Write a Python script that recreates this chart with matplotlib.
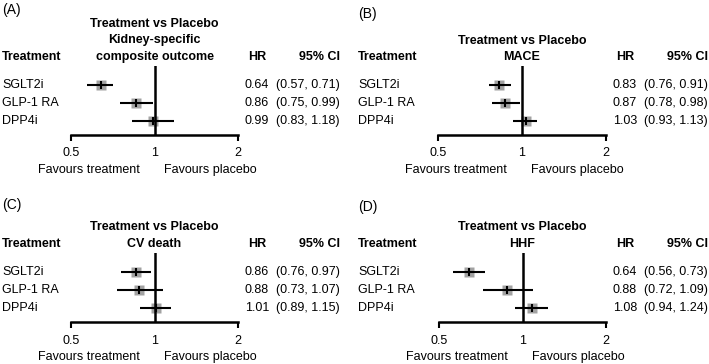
import matplotlib
matplotlib.use("Agg")
import matplotlib.pyplot as plt
import matplotlib.transforms as mtransforms
from matplotlib.ticker import NullLocator

plt.rcParams['font.family'] = ['Liberation Sans', 'DejaVu Sans']

W, H = 709, 364

treatments = ['SGLT2i', 'GLP-1 RA', 'DPP4i']

# panel A: kidney-specific composite outcome
hr_a = [0.64, 0.86, 0.99]
lo_a = [0.57, 0.75, 0.83]
hi_a = [0.71, 0.99, 1.18]

# panel B: MACE
hr_b = [0.83, 0.87, 1.03]
lo_b = [0.76, 0.78, 0.93]
hi_b = [0.91, 0.98, 1.13]

# panel C: CV death
hr_c = [0.86, 0.88, 1.01]
lo_c = [0.76, 0.73, 0.89]
hi_c = [0.97, 1.07, 1.15]

# panel D: HHF
hr_d = [0.64, 0.88, 1.08]
lo_d = [0.56, 0.72, 0.94]
hi_d = [0.73, 1.09, 1.24]

ticks = [0.5, 1, 2]
tick_labels = ['0.5', '1', '2']

panels = [
    ('(A)', ['Treatment vs Placebo', 'Kidney-specific', 'composite outcome'], hr_a, lo_a, hi_a),
    ('(B)', ['Treatment vs Placebo', 'MACE'], hr_b, lo_b, hi_b),
    ('(C)', ['Treatment vs Placebo', 'CV death'], hr_c, lo_c, hi_c),
    ('(D)', ['Treatment vs Placebo', 'HHF'], hr_d, lo_d, hi_d),
]

# pixel layout: (panel left, axis left, axis right, axis line y, label y)
layout = [
    (2, 71, 238, 135, 10),
    (358, 438, 606, 135, 14),
    (2, 71, 238, 322, 205),
    (358, 439, 606, 322, 207),
]

FS = 9
ROW = 18.0          # px between rows
rows = [3, 2, 1]
y_bot = 1 - 14 / ROW
y_top = 3 + 19 / ROW

fig = plt.figure(figsize=(W / 100, H / 100), dpi=100)

for (lab, title, hr, lo, hi), (x0, xl, xr, ay, ly) in zip(panels, layout):
    hgt = (y_top - y_bot) * ROW
    ax = fig.add_axes([xl / W, 1 - ay / H, (xr - xl) / W, hgt / H])
    ax.set_xscale('log')
    ax.set_xlim(0.5, 2)
    ax.set_ylim(y_bot, y_top)
    for s in ['top', 'right', 'left']:
        ax.spines[s].set_visible(False)
    ax.spines['bottom'].set_linewidth(1.8)
    ax.xaxis.set_minor_locator(NullLocator())
    ax.set_xticks(ticks)
    ax.set_xticklabels(tick_labels)
    ax.tick_params(axis='x', direction='out', length=4.5, width=1.5, pad=4.5,
                   labelsize=FS)
    ax.xaxis.get_major_ticks()[1].tick1line.set_visible(False)
    ax.set_yticks([])
    ax.patch.set_visible(False)

    ax.axvline(1, color='black', lw=1.8, zorder=3)
    ax.plot(hr, rows, 's', ms=6.8, color='#a2a2a2', mec='none', zorder=2,
            clip_on=False)
    ax.hlines(rows, lo, hi, color='black', lw=1.5, zorder=3)
    ax.plot(hr, rows, '|', ms=5.5, mew=1.5, color='black', zorder=4)

    tr = mtransforms.blended_transform_factory(fig.transFigure, ax.transData)
    ty = ax.get_yaxis_transform()
    head_y = 3 + 28 / ROW

    fig.text(x0 / W, 1 - ly / H, lab, fontsize=10, va='center', ha='left')
    ax.text(x0 / W, head_y, 'Treatment', transform=tr, fontsize=FS,
            fontweight='bold', va='center', ha='left')
    ax.text((xr + 19) / W, head_y, 'HR', transform=tr, fontsize=FS,
            fontweight='bold', va='center', ha='center')
    ax.text((xr + 102) / W, head_y, '95% CI', transform=tr, fontsize=FS,
            fontweight='bold', va='center', ha='right')
    for k, line in enumerate(reversed(title)):
        ax.text(0.5, head_y + k * 16.5 / ROW, line, transform=ty, fontsize=FS,
                fontweight='bold', va='center', ha='center')

    for r, name, h, l, u in zip(rows, treatments, hr, lo, hi):
        ax.text(x0 / W, r, name, transform=tr, fontsize=FS, va='center', ha='left')
        ax.text((xr + 19) / W, r, '%.2f' % h, transform=tr, fontsize=FS,
                va='center', ha='center')
        ax.text((xr + 102) / W, r, '(%.2f, %.2f)' % (l, u), transform=tr,
                fontsize=FS, va='center', ha='right')

    fav_y = y_bot - 35 / ROW
    left_tr = mtransforms.offset_copy(ax.transData, fig=fig, x=-15, y=0, units='dots')
    right_tr = mtransforms.offset_copy(ax.transData, fig=fig, x=9, y=0, units='dots')
    ax.text(1, fav_y, 'Favours treatment', transform=left_tr, fontsize=FS,
            va='center', ha='right', clip_on=False)
    ax.text(1, fav_y, 'Favours placebo', transform=right_tr, fontsize=FS,
            va='center', ha='left', clip_on=False)

fig.savefig('out.png', dpi=100)
